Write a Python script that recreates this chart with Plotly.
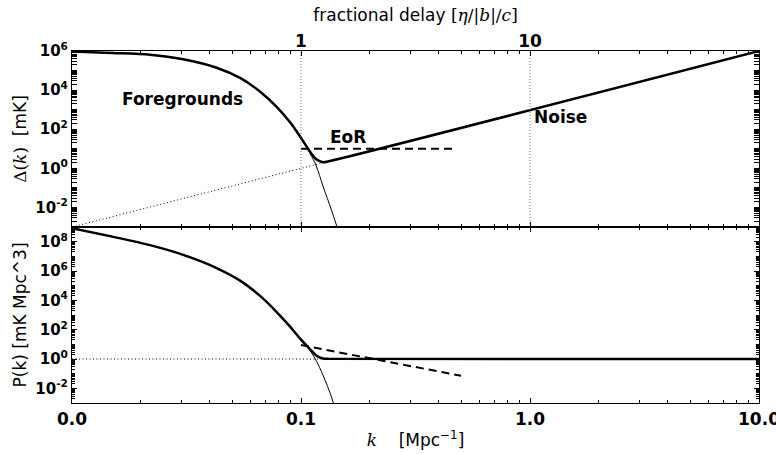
import plotly.graph_objects as go

# ---------------- data ----------------
# top panel: Delta(k) [mK]
k_fg_top = [0.01, 0.015, 0.0219, 0.0306, 0.0428, 0.0542, 0.0663, 0.0783, 0.0896, 0.1, 0.1094, 0.1166, 0.1247, 0.136, 0.1434, 0.146]
d_fg_top = [9.3e5, 7.9e5, 6.5e5, 3.8e5, 1.4e5, 4.2e4, 8.3e3, 1.4e3, 224, 35, 5.9, 1.32, 0.126, 7.1e-3, 1.05e-3, 5e-4]

k_tot_top = [0.01, 0.015, 0.0219, 0.0306, 0.0428, 0.0542, 0.0663, 0.0783, 0.0896, 0.1, 0.1094, 0.1166, 0.1247, 0.132, 10.0]
d_tot_top = [9.3e5, 7.9e5, 6.5e5, 3.8e5, 1.4e5, 4.2e4, 8.3e3, 1.4e3, 225, 36, 7.2, 2.9, 2.07, 2.3, 1e6]

k_noise_top = [0.01, 10.0]
d_noise_top = [1e-3, 1e6]

k_eor_top = [0.1, 0.48]
d_eor_top = [10, 10]

# bottom panel: P(k) [mK Mpc^3]
k_fg_bot = [0.01, 0.015, 0.0219, 0.0306, 0.0428, 0.0542, 0.0663, 0.0783, 0.0896, 0.1, 0.1094, 0.1166, 0.1247, 0.136, 0.1395]
p_fg_bot = [8.3e8, 2.2e8, 5.8e7, 1.26e7, 1.6e6, 2.2e5, 2.0e4, 1.6e3, 160, 20, 3.8, 0.76, 0.079, 2.5e-3, 6.3e-4]

k_tot_bot = [0.01, 0.015, 0.0219, 0.0306, 0.0428, 0.0542, 0.0663, 0.0783, 0.0896, 0.1, 0.1094, 0.1166, 0.1247, 0.132, 10.0]
p_tot_bot = [8.3e8, 2.2e8, 5.8e7, 1.26e7, 1.6e6, 2.2e5, 2.0e4, 1.6e3, 161, 21, 4.8, 1.76, 1.08, 1.02, 1.0]

k_noise_bot = [0.01, 10.0]
p_noise_bot = [1.0, 1.0]

k_eor_bot = [0.1, 0.5]
p_eor_bot = [8.9, 0.072]

# delay markers (k where fractional delay = 1, 10)
delay_k = [0.1, 1.0]
delay_labels = ["1", "10"]

x_tickvals = [0.01, 0.1, 1.0, 10.0]
x_ticktext = ["0.0", "0.1", "1.0", "10.0"]
y_top_vals = [1e-2, 1, 1e2, 1e4, 1e6]
y_top_text = ["10<sup>-2</sup>", "10<sup>0</sup>", "10<sup>2</sup>", "10<sup>4</sup>", "10<sup>6</sup>"]
y_bot_vals = [1e-2, 1, 1e2, 1e4, 1e6, 1e8]
y_bot_text = ["10<sup>-2</sup>", "10<sup>0</sup>", "10<sup>2</sup>", "10<sup>4</sup>", "10<sup>6</sup>", "10<sup>8</sup>"]

FONT = "DejaVu Sans"


def minor_vals(e0, e1):
    return [m * 10.0 ** e for e in range(e0, e1) for m in range(1, 10)]


fig = go.Figure()

# ---- top panel ----
fig.add_trace(go.Scatter(x=k_noise_top, y=d_noise_top, mode="lines",
                         line=dict(color="black", width=1, dash="1px,2.5px"), xaxis="x", yaxis="y"))
for kk in delay_k:
    fig.add_trace(go.Scatter(x=[kk, kk], y=[1e-3, 1e6], mode="lines",
                             line=dict(color="#777777", width=1, dash="1px,2px"), xaxis="x3", yaxis="y"))
fig.add_trace(go.Scatter(x=k_fg_top, y=d_fg_top, mode="lines", line_shape="spline",
                         line=dict(color="black", width=1, smoothing=1.0), xaxis="x", yaxis="y"))
fig.add_trace(go.Scatter(x=k_eor_top, y=d_eor_top, mode="lines",
                         line=dict(color="black", width=2, dash="8px,5px"), xaxis="x", yaxis="y"))
fig.add_trace(go.Scatter(x=k_tot_top, y=d_tot_top, mode="lines", line_shape="spline",
                         line=dict(color="black", width=2.5, smoothing=0.8), xaxis="x", yaxis="y"))

# ---- bottom panel ----
fig.add_trace(go.Scatter(x=k_noise_bot, y=p_noise_bot, mode="lines",
                         line=dict(color="black", width=1, dash="1px,2.5px"), xaxis="x2", yaxis="y2"))
fig.add_trace(go.Scatter(x=k_fg_bot, y=p_fg_bot, mode="lines", line_shape="spline",
                         line=dict(color="black", width=1, smoothing=1.0), xaxis="x2", yaxis="y2"))
fig.add_trace(go.Scatter(x=k_eor_bot, y=p_eor_bot, mode="lines",
                         line=dict(color="black", width=2, dash="8px,5px"), xaxis="x2", yaxis="y2"))
fig.add_trace(go.Scatter(x=k_tot_bot, y=p_tot_bot, mode="lines", line_shape="spline",
                         line=dict(color="black", width=2.5, smoothing=0.8), xaxis="x2", yaxis="y2"))

xminor = dict(tickvals=minor_vals(-2, 1), ticks="inside", ticklen=2.5, tickcolor="black", showgrid=False)

common_x = dict(type="log", range=[-2, 1], showgrid=False, zeroline=False, showline=True,
                linecolor="black", linewidth=1.2, ticks="inside", ticklen=5, tickcolor="black",
                mirror="allticks", tickvals=x_tickvals, minor=xminor, automargin=False)

fig.update_layout(
    width=776, height=454,
    margin=dict(l=72, r=17, t=51, b=51, autoexpand=False),
    plot_bgcolor="white", paper_bgcolor="white",
    showlegend=False,
    font=dict(family=FONT, color="black"),
    xaxis=dict(common_x, anchor="y", showticklabels=False),
    xaxis2=dict(common_x, anchor="y2", ticktext=x_ticktext,
                tickfont=dict(family=FONT, size=17, weight="bold"),
                ticklabeloverflow="allow",
                title=dict(text="<span style='font-family:DejaVu Serif'><i>k</i></span>    [Mpc<sup>\u22121</sup>]",
                           font=dict(family=FONT, size=17), standoff=6)),
    xaxis3=dict(type="log", range=[-2, 1], overlaying="x", side="top", anchor="y",
                showgrid=False, zeroline=False, showline=False, ticks="", automargin=False,
                tickvals=delay_k, ticktext=delay_labels,
                tickfont=dict(family=FONT, size=17, weight="bold"),
                title=dict(text="fractional delay <span style='font-family:DejaVu Serif'>[<i>η</i>/|<i>b</i>|/<i>c</i>]</span>",
                           font=dict(family=FONT, size=17), standoff=4)),
    yaxis=dict(type="log", range=[-3, 6], domain=[0.5, 1.0], showgrid=False, zeroline=False,
               showline=True, linecolor="black", linewidth=1.2, ticks="inside", ticklen=5,
               tickcolor="black", mirror="allticks", tickvals=y_top_vals, ticktext=y_top_text,
               tickfont=dict(family=FONT, size=15, weight="bold"), automargin=False,
               minor=dict(tickvals=minor_vals(-3, 6), ticks="inside", ticklen=2.5, tickcolor="black", showgrid=False),
               title=dict(text="<span style='font-family:DejaVu Serif'>Δ(<i>k</i>)</span>  [mK]",
                          font=dict(family=FONT, size=17), standoff=4)),
    yaxis2=dict(type="log", range=[-3, 9], domain=[0.0, 0.5], showgrid=False, zeroline=False,
                showline=True, linecolor="black", linewidth=1.2, ticks="inside", ticklen=5,
                tickcolor="black", mirror="allticks", tickvals=y_bot_vals, ticktext=y_bot_text,
                tickfont=dict(family=FONT, size=15, weight="bold"), automargin=False,
                minor=dict(tickvals=minor_vals(-3, 9), ticks="inside", ticklen=2.5, tickcolor="black", showgrid=False),
                title=dict(text="P(k) [mK Mpc^3]", font=dict(family=FONT, size=17), standoff=4)),
    annotations=[
        dict(text="<b>Foregrounds</b>", x=-1.79, y=3.53, xref="x", yref="y", xanchor="left",
             yanchor="middle", showarrow=False, font=dict(family=FONT, size=17)),
        dict(text="<b>EoR</b>", x=-0.883, y=1.6, xref="x", yref="y", xanchor="left",
             yanchor="middle", showarrow=False, font=dict(family=FONT, size=17)),
        dict(text="<b>Noise</b>", x=0.0074, y=2.64, xref="x", yref="y", xanchor="left",
             yanchor="middle", showarrow=False, font=dict(family=FONT, size=17)),
    ],
)

fig.write_html("out.html")
